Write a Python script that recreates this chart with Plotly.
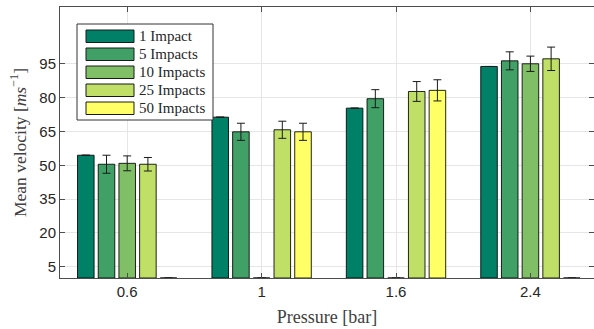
import plotly.graph_objects as go

pressures = ["0.6", "1", "1.6", "2.4"]
series_names = ["1 Impact", "5 Impacts", "10 Impacts", "25 Impacts", "50 Impacts"]
series_colors = ["#008066", "#40A066", "#80BF66", "#BFDF66", "#FFFF66"]
means = [
    [54.5, 71.4, 75.4, 93.9],
    [50.5, 64.9, 79.6, 96.4],
    [50.9, 0.0, 0.0, 95.1],
    [50.5, 65.8, 82.8, 97.3],
    [0.0, 64.9, 83.3, 0.0],
]
errors = [
    [0.0, 0.0, 0.0, 0.0],
    [4.0, 3.8, 4.0, 4.0],
    [3.3, 0.0, 0.0, 3.4],
    [3.0, 3.8, 4.4, 5.2],
    [0.0, 3.8, 4.7, 0.0],
]
y_ticks = [5, 20, 35, 50, 65, 80, 95]

fig = go.Figure()
for name, color, vals, errs in zip(series_names, series_colors, means, errors):
    fig.add_trace(go.Bar(
        x=pressures, y=vals, name=name,
        marker=dict(color=color, line=dict(color="rgba(0,0,0,0.85)", width=1)),
        error_y=dict(type="data", array=errs, visible=True, color="#1a1a1a",
                     thickness=1, width=4),
        showlegend=False,
    ))

axis_color = "#4d4d4d"
fig.update_layout(
    width=594, height=329,
    margin=dict(l=60, r=0, t=7, b=51),
    paper_bgcolor="white", plot_bgcolor="white",
    barmode="group", bargap=0.23, bargroupgap=0.2,
    font=dict(family="Liberation Sans, Arial, sans-serif", size=15, color="#262626"),
    xaxis=dict(
        type="category", range=[-0.5, 3.473],
        showgrid=True, gridcolor="#e6e6e6", gridwidth=1,
        showline=True, linecolor=axis_color, linewidth=1, mirror="ticks",
        ticks="inside", ticklen=5, tickcolor=axis_color,
        tickfont=dict(size=15, color="#262626"),
        title=dict(text="Pressure [bar]", standoff=11,
                   font=dict(family="Liberation Serif, Times New Roman, serif", size=18, color="#404040")),
    ),
    yaxis=dict(
        range=[0, 120.3], tickvals=y_ticks,
        showgrid=True, gridcolor="#e6e6e6", gridwidth=1, zeroline=False,
        showline=True, linecolor=axis_color, linewidth=1, mirror="ticks",
        ticks="inside", ticklen=5, tickcolor=axis_color,
        tickfont=dict(size=15, color="#262626"),
        title=dict(text="Mean velocity [<i>ms</i><sup>−1</sup>]", standoff=8,
                   font=dict(family="Liberation Serif, Times New Roman, serif", size=17.5, color="#404040")),
    ),
)

# custom legend (MATLAB style wide swatches)
plot_l, plot_w, plot_t, plot_h = 60, 534, 7, 271
def px(x):
    return (x - plot_l) / plot_w
def py(y):
    return 1 - (y - plot_t) / plot_h

fig.add_shape(type="rect", xref="paper", yref="paper",
              x0=px(77), x1=px(213), y0=py(120), y1=py(24),
              line=dict(color="#333333", width=1), fillcolor="white", layer="above")
for i, (name, color) in enumerate(zip(series_names, series_colors)):
    top = 30 + i * 18
    fig.add_shape(type="rect", xref="paper", yref="paper",
                  x0=px(86), x1=px(134), y0=py(top + 12.5), y1=py(top),
                  line=dict(color="#1a1a1a", width=1), fillcolor=color, layer="above")
    fig.add_annotation(xref="paper", yref="paper", x=px(137), y=py(top + 6.5),
                       text=name, showarrow=False, xanchor="left", yanchor="middle",
                       font=dict(family="Liberation Serif, Times New Roman, serif", size=15, color="#262626"))

fig.write_html("out.html")
